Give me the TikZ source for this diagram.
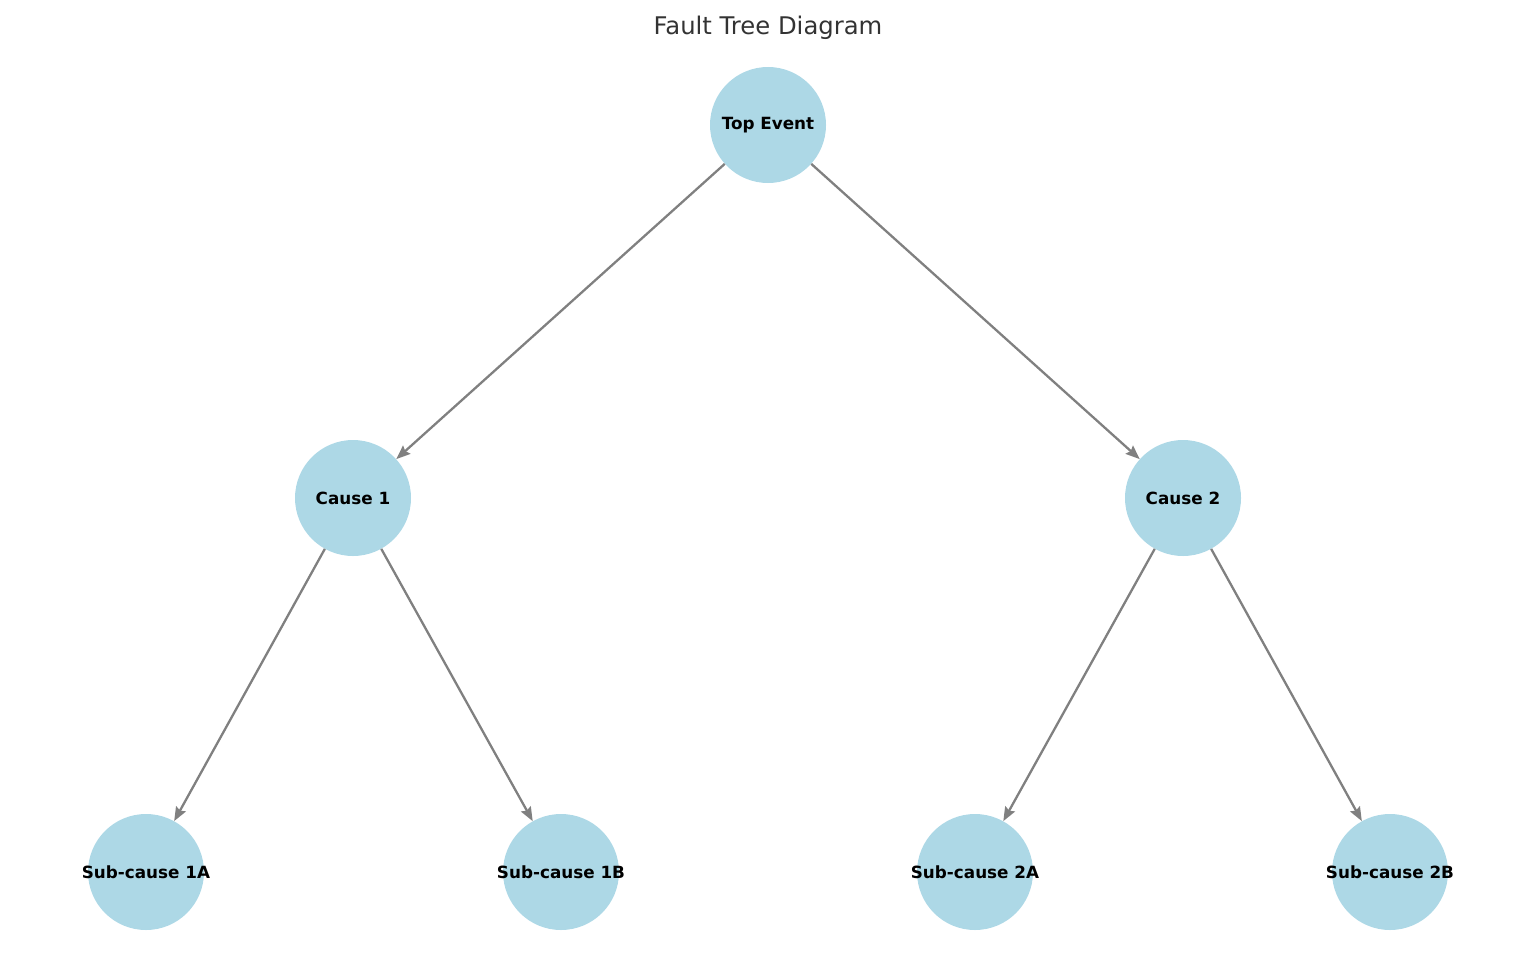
\documentclass[tikz,border=0pt]{standalone}
\usepackage{fontspec}
\setmainfont{DejaVu Sans}
\usetikzlibrary{arrows.meta}
\definecolor{nodeblue}{HTML}{ADD8E6}
\definecolor{edgegray}{HTML}{808080}
\definecolor{titlegray}{HTML}{333333}
\newcommand{\zw}[1]{\makebox[0pt][c]{#1}}
\begin{document}
\begin{tikzpicture}[x=1pt,y=-1pt,
  evt/.style={circle,fill=nodeblue,draw=none,minimum size=116pt,inner sep=0pt,font=\bfseries\fontsize{16.8}{18}\selectfont,text=black},
  link/.style={draw=edgegray,line width=2.3pt,-{Stealth[length=14pt,width=11pt,inset=2pt]}}]
\useasboundingbox (0,0) rectangle (1536,966);
\node[font=\fontsize{24.3}{28}\selectfont,text=titlegray] (title) at (768,27.5) {Fault Tree Diagram};
\node[evt] (top) at (768,125) {\zw{Top Event}};
\node[evt] (c1) at (353,498) {\zw{Cause 1}};
\node[evt] (c2) at (1183,498) {\zw{Cause 2}};
\node[evt] (s1a) at (146,872) {\zw{Sub-cause 1A}};
\node[evt] (s1b) at (561,872) {\zw{Sub-cause 1B}};
\node[evt] (s2a) at (975,872) {\zw{Sub-cause 2A}};
\node[evt] (s2b) at (1390,872) {\zw{Sub-cause 2B}};
\draw[link] (top) -- (c1);
\draw[link] (top) -- (c2);
\draw[link] (c1) -- (s1a);
\draw[link] (c1) -- (s1b);
\draw[link] (c2) -- (s2a);
\draw[link] (c2) -- (s2b);
\end{tikzpicture}
\end{document}
